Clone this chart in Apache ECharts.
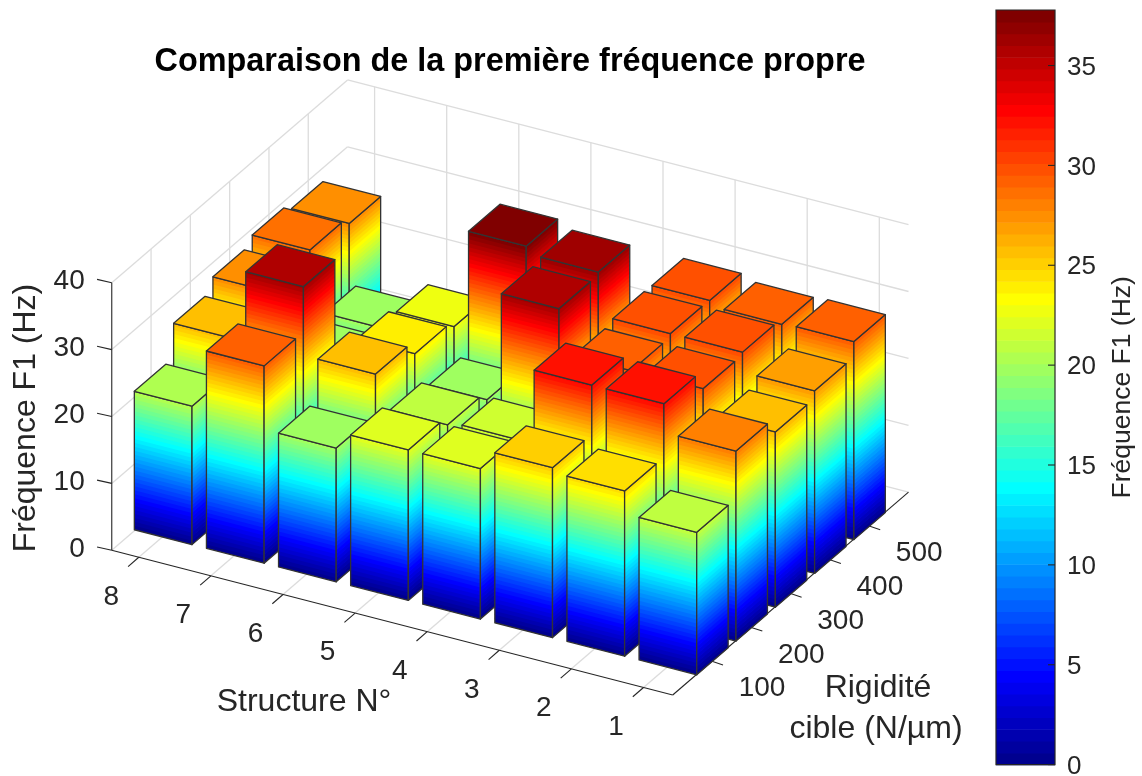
<!DOCTYPE html>
<html>
<head>
<meta charset="utf-8">
<style>html,body{margin:0;padding:0;background:#fff}#c{width:1142px;height:776px}</style>
<script src="https://cdn.jsdelivr.net/npm/echarts@6/dist/echarts.min.js"></script>
</head>
<body>
<div id="c"></div>
<script>
const structures = [1, 2, 3, 4, 5, 6, 7, 8];
const rigidities = [100, 200, 300, 400, 500];
const zTicks = [0, 10, 20, 30, 40];
const colorbarTicks = [0, 5, 10, 15, 20, 25, 30, 35];
const valuesR100 = [21.3, 24.7, 25.4, 22.5, 22.5, 20.0, 29.5, 20.7];
const valuesR200 = [28.4, 32.7, 32.7, 21.7, 21.2, 26.0, 36.3, 25.8];
const valuesR300 = [26.2, 29.9, 29.8, 36.3, 19.9, 24.0, 20.0, 27.7];
const valuesR400 = [27.3, 30.3, 30.3, 36.7, 37.8, 23.0, 20.0, 28.9];
const valuesR500 = [29.6, 29.4, 30.2, 20.0, 20.0, 15.0, 12.0, 27.8];
const rows = [valuesR100, valuesR200, valuesR300, valuesR400, valuesR500];

const FONT = '"Liberation Sans", Arial, sans-serif';
const INK = '#262626';
const CMAX = 37.78;
const LEVELS = 64;

// MATLAB jet(64)
function jet(m) {
  const n = Math.ceil(m / 4), u = [];
  for (let i = 1; i <= n; i++) u.push(i / n);
  for (let i = 1; i < n; i++) u.push(1);
  for (let i = n; i >= 1; i--) u.push(i / n);
  const off = Math.ceil(n / 2) - (m % 4 === 1 ? 1 : 0);
  const c = Array.from({ length: m }, () => [0, 0, 0]);
  u.forEach((v, i) => {
    const g = off + i, r = g + n, b = g - n;
    if (r < m) c[r][0] = v;
    if (g < m) c[g][1] = v;
    if (b >= 0 && b < m) c[b][2] = v;
  });
  return c.map(a => 'rgb(' + a.map(v => Math.round(v * 255)).join(',') + ')');
}
const JET = jet(LEVELS);
const DZ = CMAX / LEVELS;
const levelOf = v => Math.max(0, Math.min(LEVELS - 1, Math.floor(v / DZ)));

// Orthographic view of the 3D box, in screen units of the hidden grid
const VIEW = { ox: 672.7, oy: 695, sx: -72.1, sy: -18.6, rx: 39.3, ry: -33.8, kz: 6.69,
               s0: 0.595, s1: 8.375, r0: 0, r1: 6 };
const proj = (s, r, z) => [
  VIEW.ox + (s - VIEW.s0) * VIEW.sx + (r - VIEW.r0) * VIEW.rx,
  VIEW.oy + (s - VIEW.s0) * VIEW.sy + (r - VIEW.r0) * VIEW.ry - z * VIEW.kz
];

const barData = [];
for (let r = rigidities.length; r >= 1; r--)
  for (let s = structures.length; s >= 1; s--)
    barData.push([s, r, rows[r - 1][s - 1]]);

function renderBar(params, api) {
  const s = api.value(0) - 0.011, r = api.value(1), v = api.value(2), w = 0.4;
  const P = (ss, rr, z) => api.coord(proj(ss, rr, z));
  const L = [s + w, r - w], F = [s - w, r - w], R = [s - w, r + w], B = [s + w, r + w];
  const children = [];
  const topLevel = levelOf(v);
  [[L, F], [F, R]].forEach(([a, b]) => {
    for (let k = 0; k <= topLevel; k++) {
      const z0 = k * DZ, z1 = Math.min(v, (k + 1) * DZ);
      const zUp = Math.min(v, z1 + 0.15);
      if (z0 >= v) break;
      children.push({ type: 'polygon', silent: true,
        shape: { points: [P(a[0], a[1], z0), P(b[0], b[1], z0), P(b[0], b[1], zUp), P(a[0], a[1], zUp)] },
        style: { fill: JET[k], stroke: null } });
    }
    children.push({ type: 'polygon', silent: true,
      shape: { points: [P(a[0], a[1], 0), P(b[0], b[1], 0), P(b[0], b[1], v), P(a[0], a[1], v)] },
      style: { fill: 'none', stroke: '#333', lineWidth: 1.3, lineJoin: 'round' } });
  });
  children.push({ type: 'polygon', silent: true,
    shape: { points: [P(L[0], L[1], v), P(F[0], F[1], v), P(R[0], R[1], v), P(B[0], B[1], v)] },
    style: { fill: JET[levelOf(v - DZ / 2)], stroke: '#333', lineWidth: 1.3, lineJoin: 'round' } });
  return { type: 'group', children };
}

function renderFrame(params, api) {
  const kids = [];
  const P = (s, r, z) => api.coord(proj(s, r, z));
  const seg = (a, b, color, lw) => kids.push({ type: 'line', silent: true,
    shape: { x1: a[0], y1: a[1], x2: b[0], y2: b[1] },
    style: { stroke: color, lineWidth: lw } });
  const text = (t, p, size, align, extra) => kids.push(Object.assign({ type: 'text', silent: true, x: p[0], y: p[1] + 2,
    style: { text: t, fill: INK, fontSize: size, fontFamily: FONT, align: align || 'center', verticalAlign: 'middle' } }, extra || {}));
  const GRID = '#dcdcdc', GW = 1.3;
  const zTop = zTicks[zTicks.length - 1];
  zTicks.forEach(z => {
    seg(P(VIEW.s1, VIEW.r0, z), P(VIEW.s1, VIEW.r1, z), GRID, GW);
    seg(P(VIEW.s1, VIEW.r1, z), P(VIEW.s0, VIEW.r1, z), GRID, GW);
  });
  rigidities.forEach((_, i) => {
    const r = i + 1;
    seg(P(VIEW.s1, r, 0), P(VIEW.s1, r, zTop), GRID, GW);
    seg(P(VIEW.s1, r, 0), P(VIEW.s0, r, 0), GRID, GW);
  });
  structures.forEach((_, i) => {
    const s = i + 1;
    seg(P(s, VIEW.r1, 0), P(s, VIEW.r1, zTop), GRID, GW);
    seg(P(s, VIEW.r0, 0), P(s, VIEW.r1, 0), GRID, GW);
  });
  // axes
  seg(P(VIEW.s1, VIEW.r0, 0), P(VIEW.s0, VIEW.r0, 0), INK, 1.1);
  seg(P(VIEW.s0, VIEW.r0, 0), P(VIEW.s0, VIEW.r1, 0), INK, 1.1);
  seg(P(VIEW.s1, VIEW.r0, 0), P(VIEW.s1, VIEW.r0, zTop), INK, 1.1);
  structures.forEach((lab, i) => {
    const p = P(i + 1, VIEW.r0, 0);
    seg(p, [p[0] - 10.7, p[1] + 9.3], INK, 1.1);
    text(String(lab), [p[0] - 27.5, p[1] + 37.7], 28);
  });
  rigidities.forEach((lab, i) => {
    const p = P(VIEW.s0, i + 1, 0);
    seg(p, [p[0] + 11, p[1] + 3.7], INK, 1.1);
    text(String(lab), [p[0] + 50, p[1] + 25.5], 28);
  });
  zTicks.forEach(z => {
    const p = P(VIEW.s1, VIEW.r0, z);
    seg(p, [p[0] - 14.7, p[1] - 3.3], INK, 1.1);
    text(String(z), [p[0] - 27, p[1] - 3.4], 28, 'right');
  });
  text('Fréquence F1 (Hz)', api.coord([26, 416]), 32, 'center', { rotation: Math.PI / 2 });
  text('Structure N°', api.coord([304, 700]), 32);
  text('Rigidité', api.coord([878, 686]), 32);
  text('cible (N/µm)', api.coord([876, 727]), 32);
  return { type: 'group', children: kids };
}

function renderColorCell(params, api) {
  const k = api.value(0);
  const a = api.coord([0, k * DZ]), b = api.coord([1, (k + 1) * DZ]);
  return { type: 'rect', silent: true,
    shape: { x: a[0], y: b[1], width: b[0] - a[0], height: a[1] - b[1] + 0.6 },
    style: { fill: JET[k] } };
}
function renderColorFrame(params, api) {
  const a = api.coord([0, 0]), b = api.coord([1, CMAX]);
  const children = [{ type: 'rect', silent: true,
    shape: { x: a[0], y: b[1], width: b[0] - a[0], height: a[1] - b[1] },
    style: { fill: 'none', stroke: INK, lineWidth: 1.2 } }];
  colorbarTicks.forEach(t => {
    const p = api.coord([1, t]);
    children.push({ type: 'line', silent: true,
      shape: { x1: p[0] - 7, y1: p[1], x2: p[0], y2: p[1] },
      style: { stroke: INK, lineWidth: 1.1 } });
    children.push({ type: 'text', silent: true, x: p[0] + 12, y: p[1] + 2,
      style: { text: String(t), fill: INK, fontSize: 26, fontFamily: FONT, align: 'left', verticalAlign: 'middle' } });
  });
  return { type: 'group', children };
}

const chart = echarts.init(document.getElementById('c'), null, { renderer: 'canvas' });
chart.setOption({
  animation: false,
  backgroundColor: '#fff',
  title: { text: 'Comparaison de la première fréquence propre', left: 505, top: 41, textAlign: 'center',
    textStyle: { fontFamily: FONT, fontSize: 32.4, fontWeight: 'bold', color: '#000' } },
  grid: [
    { left: 0, right: 0, top: 0, bottom: 0, outerBoundsMode: 'none' },
    { left: 996, top: 10, width: 59, height: 754.6, outerBoundsMode: 'none' }
  ],
  xAxis: [
    { type: 'value', gridIndex: 0, min: 0, max: 1142, show: false },
    { type: 'value', gridIndex: 1, min: 0, max: 1, show: false }
  ],
  yAxis: [
    { type: 'value', gridIndex: 0, min: 0, max: 776, inverse: true, show: false },
    { type: 'value', gridIndex: 1, min: 0, max: CMAX, position: 'right', interval: 5,
      splitLine: { show: false },
      axisLine: { show: false, onZero: false },
      axisTick: { show: false },
      axisLabel: { show: false },
      name: 'Fréquence F1 (Hz)', nameLocation: 'middle', nameGap: 54, nameRotate: 90,
      nameTextStyle: { fontSize: 26.5, fontFamily: FONT, color: INK } }
  ],
  series: [
    { type: 'custom', xAxisIndex: 0, yAxisIndex: 0, coordinateSystem: 'cartesian2d', clip: false, silent: true,
      z: 1, renderItem: renderFrame, data: [[0, 0]], encode: { x: 0, y: 1 } },
    { type: 'custom', xAxisIndex: 0, yAxisIndex: 0, coordinateSystem: 'cartesian2d', clip: false, silent: true,
      z: 2, renderItem: renderBar, data: barData, encode: { x: 0, y: 1 } },
    { type: 'custom', xAxisIndex: 1, yAxisIndex: 1, coordinateSystem: 'cartesian2d', clip: false, silent: true,
      z: 2, renderItem: renderColorCell, data: JET.map((_, k) => [k, 0]), encode: { x: 1, y: 0 } },
    { type: 'custom', xAxisIndex: 1, yAxisIndex: 1, coordinateSystem: 'cartesian2d', clip: false, silent: true,
      z: 3, renderItem: renderColorFrame, data: [[0, 0]], encode: { x: 0, y: 1 } }
  ]
});
</script>
</body>
</html>
